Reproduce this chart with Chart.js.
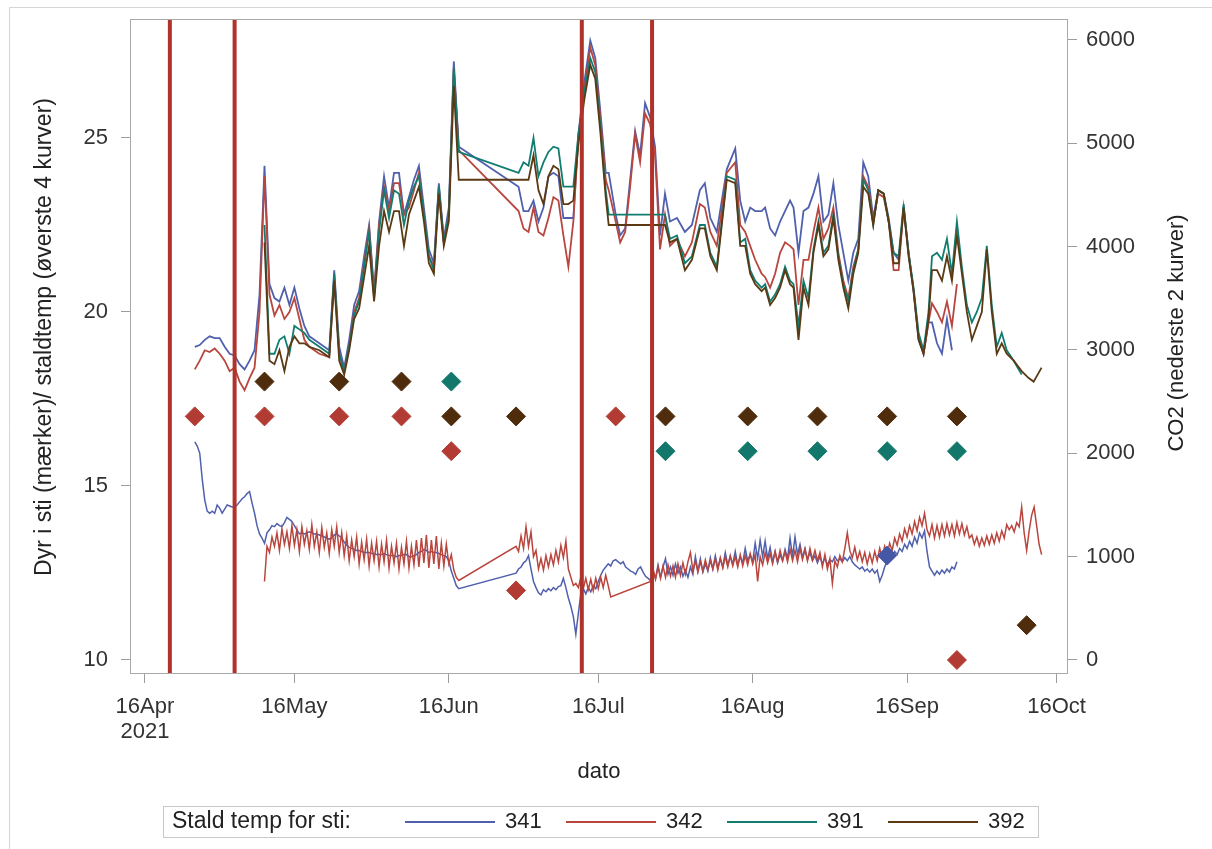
<!DOCTYPE html>
<html>
<head>
<meta charset="utf-8">
<title>Stald temp og CO2</title>
<script src="https://cdn.jsdelivr.net/npm/chart.js@4.4.1/dist/chart.umd.min.js"></script>
<style>
  html, body { margin: 0; padding: 0; background: #fff; }
  #wrap { width: 1212px; height: 849px; }
</style>
</head>
<body>
<div id="wrap"><canvas id="chart" width="1212" height="849"></canvas></div>
<script>
// days are counted from 16 Apr 2021 (day 0)
var pens = ['341', '342', '391', '392'];
var penColors = ['#4f60ad', '#b9463e', '#117c70', '#5b3913'];
var markColors = ['#4458a6', '#b23c33', '#13786b', '#4f2c0c'];

var xTickDays = [0, 30, 61, 91, 122, 153, 183];
var xTickLabels = [['16Apr', '2021'], '16May', '16Jun', '16Jul', '16Aug', '16Sep', '16Oct'];
var leftTicks = [10, 15, 20, 25];
var rightTicks = [0, 1000, 2000, 3000, 4000, 5000, 6000];

// red vertical lines (events)
var eventDays = [5, 18, 87.7, 101.8];

// stald temp per pen: [day, temp]
var t341 = [[10,19.0],[11,19.05],[12,19.2],[13,19.3],[14,19.25],[15,19.25],[16,19.0],[17,18.8],[18,18.75],[19,18.5],[20,18.35],[21,18.6],[22,18.9],[23,20.5],[24,24.2],[25,20.8],[26,20.4],[27,20.3],[28,20.7],[29,20.2],[30,20.7],[31,20.1],[32,19.6],[33,19.3],[34,19.2],[35,19.1],[36,19.0],[37,18.9],[38,21.2],[39,19.0],[40,18.4],[41,19.2],[42,20.2],[43,20.6],[44,21.6],[45,22.5],[46,20.6],[47,22.6],[48,23.9],[49,23.0],[50,24.0],[51,24.0],[52,22.8],[53,23.3],[54,23.8],[55,24.2],[56,23.0],[57,21.8],[58,21.4],[59,23.7],[60,22.1],[61,23.0],[62,27.2],[63,24.75],
  [75,23.6],[76,22.9],[77,22.9],[78,23.2],[79,22.6],[80,23.0],[81,23.9],[82,24.0],[83,23.9],[84,22.7],[85,22.7],[86,22.7],[87,25.1],[88.2,26.6],[89.4,27.8],[90.4,27.3],[91.4,25.8],[92.5,24.0],[93.1,24.0],[94.5,22.8],[95.4,22.2],[96.4,22.4],[97.4,23.8],[98.4,25.2],[99.4,24.5],[100.4,26.0],[101.4,25.6],[102.4,24.75],[103.4,22.2],[104.4,23.4],[105.4,22.6],[106.8,22.7],[108.4,22.3],[109.8,22.5],[111.4,23.5],[112.4,23.7],[113.5,22.7],[114.8,22.3],[116.8,24.1],[118.5,24.7],[119.5,23.2],[120.5,22.6],[121.5,23.0],[122.5,22.9],[123.8,22.9],[124.5,23.0],[125.5,22.4],[126.5,22.2],[127.5,22.6],[128.5,22.9],[129.5,23.2],[130.2,23.0],[131.2,21.7],[132.2,22.9],[133.2,23.0],[134.2,23.4],[135.2,23.9],[136.2,22.6],[137.2,22.8],[138.2,23.7],[139.2,22.5],[140.2,21.7],[141.2,20.9],[142.2,21.7],[143.2,22.1],[144.2,24.3],[145.2,23.9],[146.2,22.7],[147.2,23.5],[148.3,23.4],[149.3,22.7],[150.3,21.7],[151.3,21.5],[152.3,23.0],[153.3,21.7],[154.3,20.6],[155.3,19.2],[156.3,18.8],[157.3,19.7],[158,19.7],[159,19.1],[160,18.8],[161,19.8],[162,18.9]];
var t342 = [[10,18.35],[11,18.6],[12,18.9],[13,18.85],[14,18.95],[15,18.8],[16,18.6],[17,18.3],[18,18.4],[19,18.0],[20,17.75],[21,18.1],[22,18.4],[23,20.0],[24,23.9],[25,20.5],[26,19.9],[27,20.2],[28,19.8],[29,20.0],[30,20.4],[31,19.8],[32,19.2],[33,19.0],[34,18.9],[35,18.8],[36,18.75],[37,18.7],[38,21.0],[39,18.8],[40,18.3],[41,19.0],[42,20.0],[43,20.4],[44,21.4],[45,22.4],[46,20.5],[47,22.5],[48,23.6],[49,22.9],[50,23.7],[51,23.7],[52,22.8],[53,23.0],[54,23.5],[55,24.0],[56,22.8],[57,21.6],[58,21.3],[59,23.6],[60,22.0],[61,22.8],[62,27.0],[63,24.65],
  [75,22.9],[76,22.4],[77,22.3],[78,23.0],[79,22.3],[80,22.2],[81,22.7],[82,23.3],[83,23.2],[84,22.2],[85,21.3],[86,22.6],[87,25.0],[88.2,26.4],[89.4,27.6],[90.4,27.1],[91.4,25.6],[92.5,23.8],[93.1,23.5],[94.5,22.6],[95.4,22.0],[96.4,22.3],[97.4,23.6],[98.4,25.1],[99.4,24.3],[100.4,25.7],[101.4,25.4],[102.4,24.5],[103.4,21.8],[104.4,22.8],[105.4,21.9],[106.8,22.1],[108.4,21.6],[109.8,22.0],[111.4,23.1],[112.4,23.0],[113.5,22.3],[114.8,21.9],[116.8,24.0],[118.5,24.3],[119.5,22.5],[120.5,22.3],[121.5,21.9],[122.5,21.5],[123.8,21.1],[124.5,21.0],[125.5,20.7],[126.5,21.1],[127.5,21.7],[128.5,22.0],[129.5,21.9],[130.2,21.8],[131.2,20.2],[132.2,21.5],[133.2,21.5],[134.2,22.3],[135.2,23.0],[136.2,22.1],[137.2,22.4],[138.2,23.0],[139.2,21.7],[140.2,20.9],[141.2,20.4],[142.2,21.3],[143.2,21.8],[144.2,23.9],[145.2,23.6],[146.2,22.6],[147.2,23.4],[148.3,23.3],[149.3,22.6],[150.3,21.2],[151.3,21.2],[152.3,23.0],[153.3,21.7],[154.3,20.6],[155.3,19.3],[156.3,18.8],[157.3,19.7],[158,20.25],[159,20.0],[160,19.7],[161,20.3],[162,19.6],[163,20.8]];
var t391 = [[24,22.5],[25,18.8],[26,18.8],[27,19.2],[28,19.3],[29,18.8],[30,19.6],[31,19.5],[32,19.4],[33,19.2],[34,19.1],[35,19.0],[36,18.9],[37,18.8],[38,21.1],[39,18.8],[40,18.3],[41,19.0],[42,19.9],[43,20.3],[44,21.3],[45,22.3],[46,20.4],[47,22.3],[48,23.5],[49,22.7],[50,23.5],[51,23.4],[52,22.5],[53,23.2],[54,23.6],[55,23.9],[56,22.8],[57,21.6],[58,21.2],[59,23.6],[60,22.0],[61,22.8],[62,27.0],[63,24.6],
  [75,24.0],[76,24.3],[77,24.2],[78,25.0],[79,23.9],[80,24.3],[81,24.6],[82,24.75],[83,24.7],[84,23.6],[85,23.6],[86,23.6],[87,25.1],[88.2,26.3],[89.4,27.3],[90.4,26.9],[91.4,25.4],[92.5,23.5],[93.1,22.8],[104.4,22.8],[105.4,22.1],[106.8,22.2],[108.4,21.4],[109.8,21.6],[111.4,22.5],[112.4,22.5],[113.5,21.7],[114.8,21.3],[116.8,23.9],[118.5,23.8],[119.5,22.0],[120.5,22.1],[121.5,21.2],[122.5,20.9],[123.8,20.7],[124.5,20.8],[125.5,20.3],[126.5,20.5],[127.5,20.8],[128.5,21.3],[129.5,20.9],[130.2,20.8],[131.2,19.6],[132.2,20.9],[133.2,20.4],[134.2,21.8],[135.2,22.6],[136.2,21.7],[137.2,21.9],[138.2,22.8],[139.2,21.6],[140.2,20.8],[141.2,20.3],[142.2,21.2],[143.2,21.8],[144.2,23.8],[145.2,23.5],[146.2,22.5],[147.2,23.5],[148.3,23.4],[149.3,22.6],[150.3,21.7],[151.3,21.6],[152.3,23.1],[153.3,21.7],[154.3,20.7],[155.3,19.4],[156.3,18.9],[157.3,20.0],[158,21.6],[159,21.7],[160,21.5],[161,22.1],[162,21.1],[163,22.6],[164,21.3],[165,20.2],[166,19.7],[167,20.0],[168,20.4],[169,21.9],[170,20.2],[171,19.0],[172,19.4],[173,18.9],[174.4,18.6],[176,18.2]];
var t392 = [[24,22.0],[25,18.6],[26,18.5],[27,18.9],[28,18.3],[29,19.0],[30,19.3],[31,19.1],[32,19.1],[33,19.0],[34,18.95],[35,18.9],[36,18.8],[37,18.7],[38,20.9],[39,18.6],[40,18.2],[41,18.9],[42,19.8],[43,20.1],[44,21.0],[45,21.9],[46,20.3],[47,21.9],[48,22.9],[49,22.3],[50,22.9],[51,22.9],[52,21.9],[53,22.8],[54,23.2],[55,23.6],[56,22.6],[57,21.4],[58,21.1],[59,23.4],[60,21.9],[61,22.6],[62,26.5],[63,23.8],
  [75,23.8],[76,23.8],[77,23.8],[78,24.5],[79,23.5],[80,23.1],[81,23.9],[82,24.2],[83,24.1],[84,23.1],[85,23.1],[86,23.2],[87,24.8],[88.2,26.1],[89.4,27.1],[90.4,26.7],[91.4,25.2],[92.5,23.3],[93.1,22.5],[104.4,22.5],[105.4,22.0],[106.8,22.1],[108.4,21.2],[109.8,21.5],[111.4,22.4],[112.4,22.4],[113.5,21.6],[114.8,21.2],[116.8,23.8],[118.5,23.7],[119.5,21.9],[120.5,21.9],[121.5,21.1],[122.5,20.8],[123.8,20.6],[124.5,20.7],[125.5,20.2],[126.5,20.4],[127.5,20.7],[128.5,21.2],[129.5,20.8],[130.2,20.7],[131.2,19.2],[132.2,20.7],[133.2,20.2],[134.2,21.7],[135.2,22.5],[136.2,21.6],[137.2,21.8],[138.2,22.7],[139.2,21.5],[140.2,20.7],[141.2,20.1],[142.2,21.1],[143.2,21.7],[144.2,23.6],[145.2,23.4],[146.2,22.5],[147.2,23.5],[148.3,23.4],[149.3,22.6],[150.3,21.4],[151.3,21.4],[152.3,23.0],[153.3,21.6],[154.3,20.6],[155.3,19.2],[156.3,18.8],[157.3,19.8],[158,21.2],[159,21.2],[160,20.9],[161,21.6],[162,20.9],[163,22.2],[164,21.1],[165,20.0],[166,19.2],[167,19.6],[168,20.0],[169,21.8],[170,20.0],[171,18.8],[172,19.1],[173,18.8],[174.4,18.6],[176,18.3],[177.4,18.1],[178.4,18.0],[180,18.4]];

// CO2 per pen, two readings a day: [day, at 00h, at 12h]
var co2_341 = [[10,2110,2070],[11,2000,1750],[12,1550,1440],[13,1420,1440],[14,1420,1500],[15,1470,1420],[16,1460,1500],[17,1490,1480],[18,1480,1500],[19,1530,1560],
  [20,1580,1610],[21,1630,1520],[22,1420,1300],[23,1220,1180],[24,1130,1230],[25,1260,1300],[26,1290,1320],[27,1300,1290],[28,1330,1380],[29,1360,1340],
  [30,1300,1260],[31,1220,1230],[32,1220,1230],[33,1240,1230],[34,1220,1220],[35,1210,1200],[36,1190,1180],[37,1170,1180],[38,1210,1220],[39,1200,1180],
  [40,1140,1110],[41,1090,1080],[42,1070,1060],[43,1060,1050],[44,1040,1040],[45,1040,1030],[46,1030,1020],[47,1020,1020],[48,1030,1020],[49,1010,1010],
  [50,1010,1000],[51,1010,1010],[52,1020,1020],[53,1000,1000],[54,1010,1020],[55,1040,1050],[56,1070,1060],[57,1040,1050],[58,1040,1040],[59,1030,1020],
  [60,1010,1000],[61,960,860],[62,790,720],[63,690,null],
  [74,null,840],[75,880,900],[76,940,960],[77,1010,880],[78,760,700],[79,650,630],
  [80,680,660],[81,690,670],[82,700,680],[83,710,720],[84,790,700],[85,600,520],[86,420,250],[87,450,640],[88,690,640],[89,700,660],
  [90,720,690],[91,760,820],[92,870,900],[93,930,910],[94,960,970],[95,950,930],[96,950,900],[97,880,860],[98,850,830],[99,880,900],
  [100,850,810],[101,790,770],[102,850,790],[103,920,800],[104,900,980],[105,830,900],[106,820,930],[107,840,900],[108,810,870],[109,800,900],
  [110,830,1000],[111,860,980],[112,850,930],[113,860,990],[114,880,1010],[115,890,980],[116,900,1040],[117,920,1000],[118,930,1050],[119,920,1000],
  [120,940,1080],[121,960,1020],[122,950,1130],[123,980,1160],[124,1000,1150],[125,980,1090],[126,950,1050],[127,940,1020],[128,960,1070],[129,980,1180],
  [130,1000,1190],[131,1020,1120],[132,990,1080],[133,970,1040],[134,960,1010],[135,940,1000],[136,930,990],[137,920,970],[138,950,1000],[139,960,980],
  [140,950,990],[141,960,1000],[142,950,920],[143,900,880],[144,900,860],[145,880,850],[146,880,840],[147,870,760],[148,820,900],[149,960,1010],
  [150,990,1050],[151,1020,1080],[152,1050,1120],[153,1080,1150],[154,1100,1190],[155,1130,1230],[156,1180,1250],[157,1050,900],[158,860,820],[159,860,830],
  [160,870,840],[161,880,850],[162,900,880],[163,950,null]];
var co2_342 = [[24,760,1100],[25,1040,1190],[26,1100,1230],[27,1060,1270],[28,1120,1240],[29,1080,1300],
  [30,1110,1260],[31,1050,1290],[32,1120,1250],[33,1070,1310],[34,1100,1240],[35,1040,1280],[36,1090,1230],[37,1030,1260],[38,1100,1290],[39,1040,1230],
  [40,1010,1200],[41,960,1160],[42,1000,1190],[43,930,1140],[44,970,1170],[45,910,1130],[46,960,1150],[47,900,1120],[48,950,1160],[49,890,1100],
  [50,940,1130],[51,880,1090],[52,930,1150],[53,890,1100],[54,920,1160],[55,900,1180],[56,940,1210],[57,890,1160],[58,930,1200],[59,880,1130],
  [60,910,1120],[61,930,1020],[62,870,800],[63,770,null],
  [74,null,1100],[75,1050,1200],[76,1080,1290],[77,1100,1240],[78,1000,1060],[79,880,980],
  [80,870,1010],[81,900,1020],[82,920,1060],[83,950,1110],[84,990,1150],[85,880,800],[86,720,740],[87,700,800],[88,690,790],[89,680,780],
  [90,670,790],[91,690,800],[92,700,820],[93,720,610],
  [101,null,760],[102,880,780],[103,900,790],[104,910,800],[105,920,810],[106,910,800],[107,930,820],[108,940,830],[109,950,1040],
  [110,860,960],[111,850,950],[112,860,970],[113,870,960],[114,880,980],[115,870,990],[116,890,1000],[117,900,1010],[118,910,1000],[119,900,1020],
  [120,910,1010],[121,920,1030],[122,930,1020],[123,760,1000],[124,920,1040],[125,940,1030],[126,930,1050],[127,950,1060],[128,960,1050],[129,950,1070],
  [130,960,1060],[131,950,1080],[132,970,1070],[133,960,1080],[134,970,1060],[135,960,1040],[136,900,1020],[137,880,980],[138,740,960],[139,900,1010],
  [140,950,1080],[141,1230,1060],[142,990,1090],[143,970,1050],[144,950,1040],[145,930,1030],[146,940,1050],[147,960,1080],[148,990,1100],[149,1020,1130],
  [150,1060,1180],[151,1110,1220],[152,1150,1270],[153,1190,1300],[154,1220,1340],[155,1250,1380],[156,1300,1420],[157,1260,1200],[158,1310,1180],[159,1300,1190],
  [160,1310,1200],[161,1320,1210],[162,1310,1200],[163,1330,1220],[164,1320,1210],[165,1290,1180],[166,1210,1120],[167,1190,1100],[168,1180,1110],[169,1200,1120],
  [170,1210,1130],[171,1230,1150],[172,1250,1180],[173,1310,1260],[174,1300,1240],[175,1330,1290],[176,1480,1230],[177,1060,1250],[178,1400,1480],[179,1300,1120],
  [180,1020,null]];

// dyr i sti (markers): [day, antal]
var mark341 = [[149,13]];
var mark342 = [[10,17],[24,17],[39,17],[51.5,17],[61.5,16],[74.5,12],[94.5,17],[163,10]];
var mark391 = [[61.5,18],[104.5,16],[121,16],[135,16],[149,16],[163,16]];
var mark392 = [[24,18],[39,18],[51.5,18],[61.5,17],[74.5,17],[104.5,17],[121,17],[135,17],[149,17],[163,17],[177,11]];

var xMin = -2.8, xMax = 185.1;
var yMin = 9.626, yMax = 28.39;
var y2Min = -126, y2Max = 6193;

var FONT = "'Liberation Sans', Arial, Helvetica, sans-serif";

function toPoints(list) {
  return list.map(function (p) { return {x: p[0], y: p[1]}; });
}
function halfDays(rows) {
  var out = [];
  rows.forEach(function (r) {
    if (r[1] != null) out.push({x: r[0], y: r[1]});
    if (r[2] != null) out.push({x: r[0] + 0.5, y: r[2]});
  });
  return out;
}

var datasets = [];
var temps = [t341, t342, t391, t392];
var marks = [mark341, mark342, mark391, mark392];

marks.forEach(function (m, i) {
  datasets.push({
    label: 'dyr ' + pens[i], data: toPoints(m), yAxisID: 'y', showLine: false,
    pointStyle: 'rectRot', pointRadius: 9.5, borderWidth: 1,
    backgroundColor: markColors[i], borderColor: markColors[i], order: 0
  });
});
eventDays.forEach(function (d) {
  datasets.push({
    label: 'event', data: [{x: d, y: yMin}, {x: d, y: yMax}], yAxisID: 'y',
    borderColor: '#b0332b', borderWidth: 4, pointRadius: 0, order: 1
  });
});
temps.forEach(function (t, i) {
  datasets.push({
    label: pens[i], data: toPoints(t), yAxisID: 'y',
    borderColor: penColors[i], borderWidth: 1.8, pointRadius: 0, order: 5 - i
  });
});
[co2_341, co2_342].forEach(function (c, i) {
  datasets.push({
    label: 'CO2 ' + pens[i], data: halfDays(c), yAxisID: 'y2',
    borderColor: penColors[i], borderWidth: 1.5, pointRadius: 0, order: 7 - i
  });
});

var framePlugin = {
  id: 'frame',
  beforeDraw: function (chart) {
    var ctx = chart.ctx;
    ctx.save();
    ctx.strokeStyle = '#d6d6d6';
    ctx.lineWidth = 1;
    ctx.beginPath();
    ctx.moveTo(9.5, 849); ctx.lineTo(9.5, 7.5); ctx.lineTo(1212, 7.5);
    ctx.stroke();
    ctx.restore();
  },
  beforeDatasetsDraw: function (chart) {
    var a = chart.chartArea, ctx = chart.ctx;
    ctx.save();
    ctx.strokeStyle = '#a9a9a9';
    ctx.lineWidth = 1;
    ctx.strokeRect(a.left - 0.5, a.top - 0.5, a.right - a.left + 1, a.bottom - a.top + 1);
    ctx.restore();
  },
  afterDraw: function (chart) {
    var ctx = chart.ctx;
    ctx.save();
    ctx.fillStyle = '#222';
    ctx.textAlign = 'center';
    ctx.textBaseline = 'middle';
    // axis titles, both read bottom to top
    ctx.save();
    ctx.font = '23px ' + FONT;
    ctx.translate(45, 337);
    ctx.rotate(-Math.PI / 2);
    ctx.fillText('Dyr i sti (mærker)/ staldtemp (øverste 4 kurver)', 0, 0);
    ctx.restore();
    ctx.save();
    ctx.font = '22px ' + FONT;
    ctx.translate(1177, 333);
    ctx.rotate(-Math.PI / 2);
    ctx.fillText('CO2 (nederste 2 kurver)', 0, 0);
    ctx.restore();

    // legend
    ctx.strokeStyle = '#c9c9c9';
    ctx.lineWidth = 1;
    ctx.strokeRect(163.5, 806.5, 875, 31);
    ctx.textAlign = 'left';
    ctx.font = '23px ' + FONT;
    ctx.fillText('Stald temp for sti:', 172, 822);
    ctx.font = '22px ' + FONT;
    var lineX = [405, 566, 727, 888];
    pens.forEach(function (p, i) {
      ctx.strokeStyle = penColors[i];
      ctx.lineWidth = 2;
      ctx.beginPath();
      ctx.moveTo(lineX[i], 822);
      ctx.lineTo(lineX[i] + 90, 822);
      ctx.stroke();
      ctx.fillText(p, lineX[i] + 100, 822);
    });
    ctx.restore();
  }
};

var tickFont = {family: FONT, size: 22, lineHeight: 1.15};

new Chart(document.getElementById('chart'), {
  type: 'line',
  data: {datasets: datasets},
  options: {
    responsive: false,
    devicePixelRatio: 1,
    animation: false,
    spanGaps: true,
    layout: {padding: {top: 20, left: 0, right: 0, bottom: 0}},
    plugins: {legend: {display: false}, tooltip: {enabled: false}},
    scales: {
      x: {
        type: 'linear', min: xMin, max: xMax,
        grid: {drawOnChartArea: false, tickLength: 10, color: '#9c9c9c'},
        border: {display: false},
        ticks: {
          autoSkip: false, maxRotation: 0, padding: 11, color: '#333', font: tickFont,
          callback: function (v, i) { return xTickLabels[i]; }
        },
        afterBuildTicks: function (s) { s.ticks = xTickDays.map(function (v) { return {value: v}; }); },
        afterFit: function (s) { s.height = 176; s.paddingLeft = 0; s.paddingRight = 0; },
        title: {display: true, text: 'dato', color: '#222', font: {family: FONT, size: 22}, padding: {top: 0, bottom: 64}}
      },
      y: {
        position: 'left', min: yMin, max: yMax,
        grid: {drawOnChartArea: false, tickLength: 10, color: '#9c9c9c'},
        border: {display: false},
        ticks: {padding: 13, color: '#333', font: tickFont, callback: function (v) { return String(v); }},
        afterBuildTicks: function (s) { s.ticks = leftTicks.map(function (v) { return {value: v}; }); },
        afterFit: function (s) { s.width = 131; s.paddingTop = 0; s.paddingBottom = 0; }
      },
      y2: {
        position: 'right', min: y2Min, max: y2Max,
        grid: {drawOnChartArea: false, tickLength: 10, color: '#9c9c9c'},
        border: {display: false},
        ticks: {padding: 9, color: '#333', font: tickFont, callback: function (v) { return String(v); }},
        afterBuildTicks: function (s) { s.ticks = rightTicks.map(function (v) { return {value: v}; }); },
        afterFit: function (s) { s.width = 145; s.paddingTop = 0; s.paddingBottom = 0; }
      }
    }
  },
  plugins: [framePlugin]
});
</script>
</body>
</html>
